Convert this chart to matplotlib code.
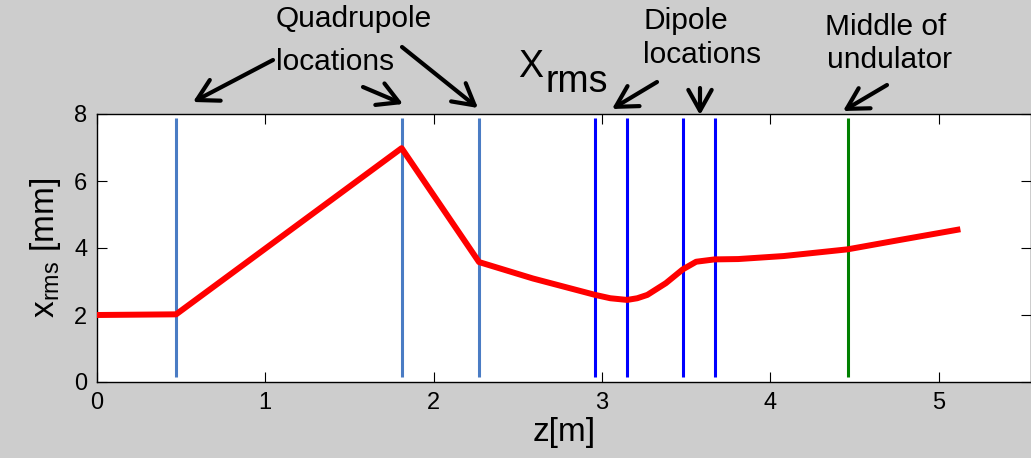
import matplotlib
matplotlib.use("Agg")
import matplotlib.pyplot as plt

plt.rcParams["font.family"] = ["Liberation Sans", "DejaVu Sans"]
plt.rcParams["mathtext.fontset"] = "custom"
plt.rcParams["mathtext.rm"] = "Liberation Sans"

# beam size along z
z_m = [0.0, 0.47, 1.81, 2.27, 2.59, 2.96, 3.05, 3.15, 3.21, 3.27, 3.38, 3.48, 3.56, 3.67, 3.81, 4.08, 4.46, 4.77, 5.13]
x_rms = [2.0, 2.02, 6.98, 3.58, 3.09, 2.60, 2.50, 2.45, 2.50, 2.60, 2.95, 3.36, 3.59, 3.66, 3.67, 3.76, 3.96, 4.24, 4.56]

quad_z = [0.47, 1.81, 2.27]
dipole_z = [2.96, 3.15, 3.48, 3.67]
undulator_mid_z = [4.46]

x_ticks = [0, 1, 2, 3, 4, 5]
y_ticks = [0, 2, 4, 6, 8]

W, H = 1031, 458
BG = "#cdcdcd"

fig = plt.figure(figsize=(W / 100, H / 100), dpi=100, facecolor=BG)
ax = fig.add_axes([97 / W, 1 - 382 / H, (W - 97) / W, (382 - 114) / H])

ax.plot(z_m, x_rms, color="#ff0000", lw=4.3, solid_capstyle="butt",
        solid_joinstyle="round", zorder=3)
ax.vlines(quad_z, 0.15, 7.88, color="#4a7cc4", lw=2.2, zorder=2)
ax.vlines(dipole_z, 0.15, 7.88, color="#0000ff", lw=2.2, zorder=2)
ax.vlines(undulator_mid_z, 0.15, 7.88, color="#008000", lw=2.2, zorder=2)

ax.set_xlim(0, (W - 97) / 168.3)
ax.set_ylim(0, 8)
ax.set_xticks(x_ticks)
ax.set_yticks(y_ticks)
ax.tick_params(direction="in", length=7, width=0.8, labelsize=17,
               top=True, right=True, pad=7)
for s in ax.spines.values():
    s.set_linewidth(1.0)

ax.set_xlabel("z[m]", fontsize=24, labelpad=2)
ax.set_ylabel(r"x$_{\mathregular{rms}}$ [mm]", fontsize=24, labelpad=8)


def fp(x, y):
    # image pixel (from top-left) -> figure pixels
    return (x, H - y)


def note(x, y, s, size=21.5):
    fig.text(x / W, 1 - y / H, s, fontsize=size, ha="left", va="baseline")


def arrow(tail, head):
    ax.annotate("", xy=fp(*head), xytext=fp(*tail),
                xycoords="figure pixels", textcoords="figure pixels",
                arrowprops=dict(arrowstyle="->,head_length=0.75,head_width=0.42",
                                lw=3.0, color="black", mutation_scale=20,
                                shrinkA=0, shrinkB=0),
                annotation_clip=False)


note(276, 27, "Quadrupole")
note(276, 70, "locations")
note(643, 29, "Dipole")
note(643, 63, "locations")
note(825, 35, "Middle of")
note(827, 68, "undulator")
note(518, 77, "X", size=27)
note(545, 92, "rms", size=27)

arrow((273, 60), (193, 102))
arrow((363, 87), (403, 104))
arrow((402, 47), (478, 108))
arrow((657, 82), (612, 109))
arrow((700, 88), (700, 115))
arrow((887, 85), (843, 111))

fig.savefig("out.png", dpi=100, facecolor=BG)
